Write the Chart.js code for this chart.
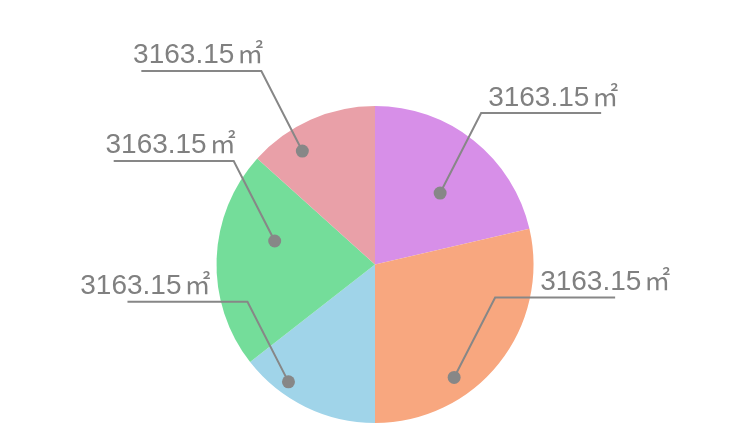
<!DOCTYPE html>
<html>
<head>
<meta charset="utf-8">
<script src="https://cdn.jsdelivr.net/npm/chart.js@4"></script>
<style>
  html, body { margin: 0; padding: 0; background: #fff; }
  #wrap { width: 748px; height: 448px; }
</style>
</head>
<body>
<div id="wrap"><canvas id="myChart"></canvas></div>
<script>
// dữ liệu biểu đồ
var categories = ['A', 'B', 'C', 'D', 'E'];
var areaValues = [77, 103, 52, 80, 48];
var labelValues = ['3163.15', '3163.15', '3163.15', '3163.15', '3163.15'];
var labelUnit = '㎡';
var sliceColors = ['#d78fe8', '#f8a77f', '#a0d4e9', '#74dd9a', '#e9a0a8'];

// vị trí điểm neo của nhãn trong mỗi lát (tỉ lệ góc, tỉ lệ bán kính)
var anchorAngle = [0.55, 0.66, 0.70, 0.64, 0.32];
var anchorRadius = [0.61, 0.87, 0.92, 0.65, 0.85];
// dịch chữ theo chiều ngang so với đường kẻ
var textShift = [0, 38, -39, 0, 0];

// vẽ nhãn có đường dẫn
var leaderLabels = {
    id: 'leaderLabels',
    afterDatasetsDraw: function (chart) {
        var ctx = chart.ctx;
        var meta = chart.getDatasetMeta(0);
        ctx.save();
        meta.data.forEach(function (arc, i) {
            var a = arc.startAngle + (arc.endAngle - arc.startAngle) * anchorAngle[i];
            var r = arc.outerRadius * anchorRadius[i];
            var px = arc.x + Math.cos(a) * r;
            var py = arc.y + Math.sin(a) * r;
            var right = Math.cos(a) >= 0;
            var ex = px + (right ? 41 : -41);
            var ey = py - 80;
            var hx = ex + (right ? 120 : -120);

            ctx.strokeStyle = '#878787';
            ctx.lineWidth = 2;
            ctx.beginPath();
            ctx.moveTo(px, py);
            ctx.lineTo(ex, ey);
            ctx.lineTo(hx, ey);
            ctx.stroke();

            ctx.fillStyle = '#878787';
            ctx.beginPath();
            ctx.arc(px, py, 6.5, 0, Math.PI * 2);
            ctx.fill();

            // chữ số + đơn vị
            ctx.fillStyle = '#808080';
            ctx.textAlign = 'left';
            ctx.textBaseline = 'alphabetic';
            var numFont = '28px "Liberation Sans", Arial, sans-serif';
            var unitFont = '26px "Noto Sans CJK SC", sans-serif';
            ctx.font = numFont;
            var wNum = ctx.measureText(labelValues[i]).width;
            ctx.font = unitFont;
            var wUnit = ctx.measureText(labelUnit).width;
            var gap = 3;
            var total = wNum + gap + wUnit;
            var tx = right ? ex + 7 : ex + 2 - total;
            tx += textShift[i];
            var ty = right ? ey - 7 : ey - 8;
            ctx.font = numFont;
            ctx.fillText(labelValues[i], tx, ty);
            ctx.font = unitFont;
            ctx.fillText(labelUnit, tx + wNum + gap, ty);
        });
        ctx.restore();
    }
};

new Chart(document.getElementById('myChart').getContext('2d'), {
    type: 'pie',
    data: {
        labels: categories,
        datasets: [{
            data: areaValues,
            backgroundColor: sliceColors,
            borderWidth: 0
        }]
    },
    options: {
        responsive: true,
        maintainAspectRatio: false,
        animation: false,
        layout: {
            padding: { top: 106, bottom: 25, left: 2, right: 0 }
        },
        plugins: {
            legend: { display: false },
            tooltip: { enabled: false }
        }
    },
    plugins: [leaderLabels]
});
</script>
</body>
</html>
